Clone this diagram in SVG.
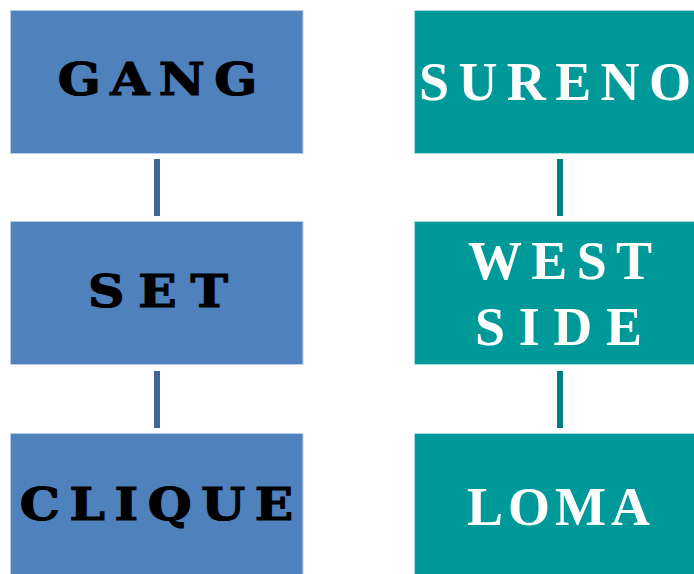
<svg xmlns="http://www.w3.org/2000/svg" width="694" height="574" viewBox="0 0 694 574">
<style>
.lb{fill:#4F81BD;stroke:#B9CDE5;stroke-width:1}
.rb{fill:#009999;stroke:#A6DCDC;stroke-width:1}
.lt{font-family:"DejaVu Serif","Liberation Serif",serif;font-weight:bold;font-size:45px;fill:#000;stroke:#000;stroke-width:1.2;text-anchor:middle}
.rt{font-family:"Liberation Serif","DejaVu Serif",serif;font-weight:bold;font-size:54px;fill:#fff;text-anchor:middle}
.lc{stroke:#3D6699;stroke-width:6}
.rc{stroke:#007F7F;stroke-width:6}
</style>
<rect width="694" height="574" fill="#fff"/>
<g id="connectors">
<line class="lc" x1="157" y1="159" x2="157" y2="216"/>
<line class="lc" x1="157" y1="371" x2="157" y2="428"/>
<line class="rc" x1="560" y1="159" x2="560" y2="216"/>
<line class="rc" x1="560" y1="371" x2="560" y2="428"/>
</g>
<g id="gang">
<rect class="lb" x="10.5" y="10.5" width="292.5" height="143"/>
<text class="lt" transform="translate(157.5,95) scale(1.12,1)" x="0" y="0" textLength="178" lengthAdjust="spacing">GANG</text>
</g>
<g id="set">
<rect class="lb" x="10.5" y="221.5" width="292.5" height="143"/>
<text class="lt" transform="translate(158,307) scale(1.12,1)" x="0" y="0" textLength="125" lengthAdjust="spacing">SET</text>
</g>
<g id="clique">
<rect class="lb" x="10.5" y="433.5" width="292.5" height="143"/>
<text class="lt" transform="translate(156.5,520) scale(1.12,1)" x="0" y="0" textLength="244" lengthAdjust="spacing">CLIQUE</text>
</g>
<g id="sureno">
<rect class="rb" x="414.5" y="10.5" width="292.5" height="143"/>
<text class="rt" x="555" y="100" textLength="272" lengthAdjust="spacing">SURENO</text>
</g>
<g id="westside">
<rect class="rb" x="414.5" y="221.5" width="292.5" height="143"/>
<text class="rt" x="560" y="279" textLength="184" lengthAdjust="spacing">WEST</text>
<text class="rt" x="558.5" y="345" textLength="167" lengthAdjust="spacing">SIDE</text>
</g>
<g id="loma">
<rect class="rb" x="414.5" y="433.5" width="292.5" height="143"/>
<text class="rt" x="558.5" y="525" textLength="183" lengthAdjust="spacing">LOMA</text>
</g>
</svg>
